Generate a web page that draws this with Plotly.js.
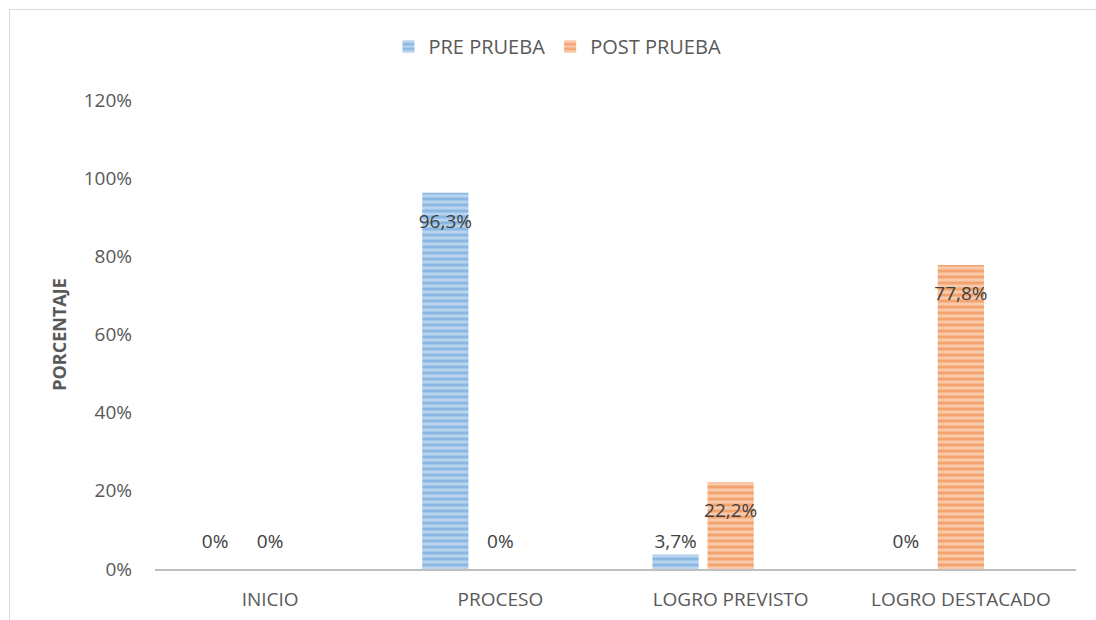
<!DOCTYPE html>
<html>
<head>
<meta charset="utf-8">
<script src="https://cdn.plot.ly/plotly-3.0.1.min.js"></script>
<style>
  html, body { margin: 0; padding: 0; background: #fff; }
  #wrap { position: relative; width: 1096px; height: 620px; overflow: hidden; }
  #chart { position: absolute; left: 0; top: 0; width: 1096px; height: 620px; }
  #frame { position: absolute; left: 9px; top: 9px; width: 1200px; height: 800px;
           border: 1px solid #D9D9D9; pointer-events: none; }
</style>
</head>
<body>
<div id="wrap">
  <div id="chart"></div>
  <div id="frame"></div>
</div>
<script>
const categories = ["INICIO", "PROCESO", "LOGRO PREVISTO", "LOGRO DESTACADO"];
const seriesNames = ["PRE PRUEBA", "POST PRUEBA"];
const prePrueba = [0, 96.3, 3.7, 0];
const postPrueba = [0, 0, 22.2, 77.8];
const emptySeries = [null, null, null, null];
const yTickValues = [0, 20, 40, 60, 80, 100, 120];

const FONT = "'Open Sans', 'Noto Sans', sans-serif";
const TEXT_COLOR = "#595959";
const LABEL_COLOR = "#404040";

function fmt(v) {
  return v === 0 ? "0%" : v.toFixed(1).replace(".", ",") + "%";
}

function barTrace(name, values, fg, bg, group) {
  return {
    type: "bar",
    name: name,
    x: categories,
    y: values,
    offsetgroup: group,
    marker: {
      color: bg,
      line: { width: 0 },
      pattern: { shape: "-", fgcolor: fg, bgcolor: bg, size: 6, solidity: 0.5, fillmode: "overlay" }
    },
    hoverinfo: "skip"
  };
}

// label offset from the value point depends on the (invisible) marker size
function labelSize(v) {
  if (v === null) return 2;
  if (v === 0) return 24;
  if (v < 10) return 2;
  return 32;
}

function labelTrace(values, group) {
  return {
    type: "scatter",
    mode: "markers+text",
    x: categories,
    y: values,
    offsetgroup: group,
    text: values.map(v => v === null ? "" : fmt(v)),
    textposition: values.map(v => (v !== null && v >= 10) ? "bottom center" : "top center"),
    marker: { size: values.map(labelSize), opacity: 0 },
    textfont: { family: FONT, size: 19, color: LABEL_COLOR },
    showlegend: false,
    hoverinfo: "skip",
    cliponaxis: false
  };
}

const data = [
  barTrace(seriesNames[0], prePrueba, "#5B9BD5", "#B9D4EE", "a"),
  barTrace(seriesNames[1], postPrueba, "#ED7D31", "#F8CAAB", "b"),
  { type: "bar", name: "", x: categories, y: emptySeries, offsetgroup: "c", showlegend: false, hoverinfo: "skip" },
  labelTrace(prePrueba, "a"),
  labelTrace(postPrueba, "b"),
  labelTrace(emptySeries, "c")
];

const layout = {
  width: 1096,
  height: 620,
  margin: { l: 155, r: 20, t: 100, b: 51 },
  paper_bgcolor: "rgba(0,0,0,0)",
  plot_bgcolor: "rgba(0,0,0,0)",
  barmode: "group",
  bargap: 0.283,
  bargroupgap: 0.16,
  scattermode: "group",
  scattergap: 0.283,
  font: { family: FONT, size: 19, color: TEXT_COLOR },
  showlegend: true,
  legend: {
    orientation: "h",
    x: 0.437, xanchor: "center",
    y: 1.114, yanchor: "middle",
    font: { family: FONT, size: 20, color: TEXT_COLOR },
    itemwidth: 30,
    traceorder: "normal"
  },
  xaxis: {
    type: "category",
    showline: true,
    linecolor: "#BFBFBF",
    linewidth: 2,
    showgrid: false,
    zeroline: false,
    ticks: "",
    ticklabelstandoff: 12,
    tickfont: { family: FONT, size: 19, color: TEXT_COLOR },
    fixedrange: true
  },
  yaxis: {
    range: [0, 120],
    tickvals: yTickValues,
    ticktext: yTickValues.map(v => v + "%"),
    showline: false,
    showgrid: false,
    zeroline: false,
    ticks: "",
    ticklabelstandoff: 22,
    tickfont: { family: FONT, size: 19, color: TEXT_COLOR },
    title: { text: "PORCENTAJE", font: { family: FONT, size: 18, color: TEXT_COLOR, weight: "bold" }, standoff: 12 },
    fixedrange: true
  }
};

Plotly.newPlot("chart", data, layout, { displayModeBar: false, staticPlot: true });
</script>
</body>
</html>
